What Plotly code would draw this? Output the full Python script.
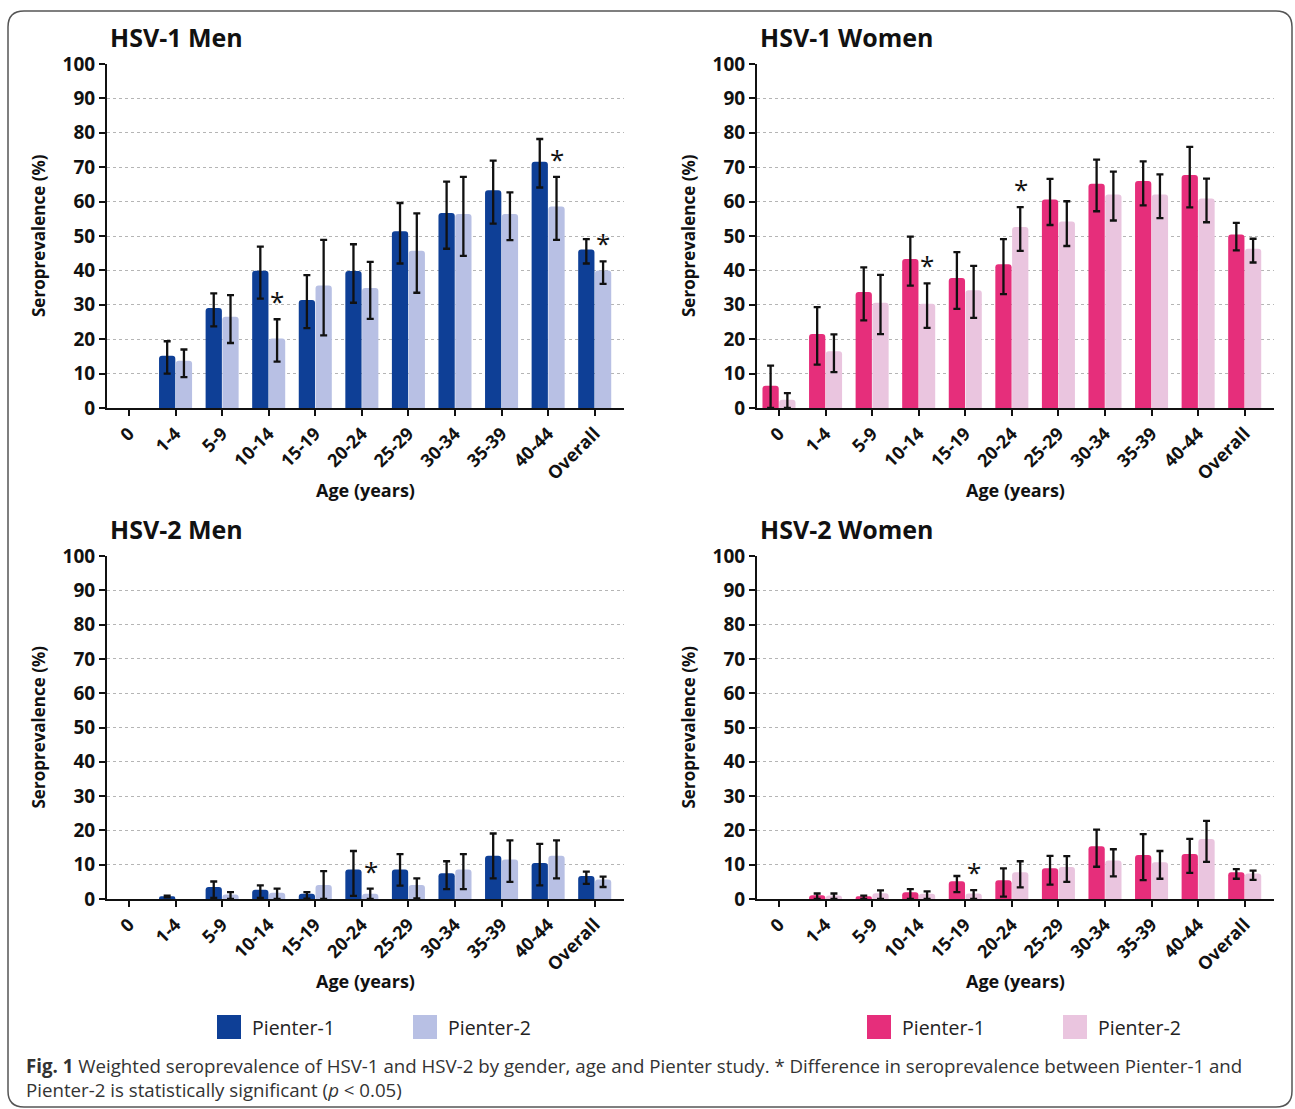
import plotly.graph_objects as go

W, H = 1295, 1109

ages = ["0", "1-4", "5-9", "10-14", "15-19", "20-24", "25-29", "30-34", "35-39", "40-44", "Overall"]

# HSV-1 Men
hsv1_men_p1 = [None, 15.2, 29.1, 39.9, 31.4, 39.8, 51.4, 56.7, 63.3, 71.6, 46.1]
hsv1_men_p1_lo = [None, 10.0, 23.7, 31.8, 23.2, 30.6, 42.0, 46.3, 53.6, 64.1, 42.0]
hsv1_men_p1_hi = [None, 19.4, 33.3, 46.9, 38.6, 47.6, 59.6, 65.8, 71.9, 78.2, 49.1]
hsv1_men_p2 = [None, 13.7, 26.5, 20.2, 35.6, 34.9, 45.7, 56.4, 56.4, 58.6, 40.0]
hsv1_men_p2_lo = [None, 9.0, 18.9, 13.5, 21.1, 25.9, 33.5, 44.2, 48.8, 48.9, 36.1]
hsv1_men_p2_hi = [None, 17.0, 32.8, 25.8, 48.9, 42.5, 56.6, 67.2, 62.7, 67.2, 42.6]
hsv1_men_sig = [False, False, False, True, False, False, False, False, False, True, True]

# HSV-1 Women
hsv1_women_p1 = [6.5, 21.5, 33.7, 43.3, 37.8, 41.8, 60.6, 65.2, 66.0, 67.7, 50.4]
hsv1_women_p1_lo = [0.0, 12.6, 25.5, 35.6, 28.8, 33.1, 53.2, 57.2, 58.9, 58.3, 45.8]
hsv1_women_p1_hi = [12.3, 29.3, 40.9, 49.8, 45.3, 49.1, 66.6, 72.2, 71.7, 75.9, 53.8]
hsv1_women_p2 = [2.4, 16.5, 30.6, 30.3, 34.2, 52.6, 54.2, 62.1, 62.1, 60.9, 46.3]
hsv1_women_p2_lo = [0.0, 10.4, 21.5, 23.3, 26.2, 45.7, 47.1, 54.5, 55.2, 54.0, 42.3]
hsv1_women_p2_hi = [4.3, 21.4, 38.7, 36.2, 41.3, 58.4, 60.1, 68.7, 67.9, 66.7, 49.2]
hsv1_women_sig = [False, False, False, True, False, True, False, False, False, False, False]

# HSV-2 Men
hsv2_men_p1 = [None, 0.8, 3.5, 2.7, 1.5, 8.6, 8.6, 7.5, 12.6, 10.5, 6.7]
hsv2_men_p1_lo = [None, 0.5, 0.3, 0.3, 0.1, 0.9, 3.9, 2.9, 6.0, 4.0, 4.4]
hsv2_men_p1_hi = [None, 1.0, 5.1, 4.0, 2.0, 14.0, 13.1, 11.0, 19.1, 16.1, 8.0]
hsv2_men_p2 = [None, None, 1.3, 1.8, 4.1, 1.5, 4.1, 8.6, 11.5, 12.6, 5.7]
hsv2_men_p2_lo = [None, None, 0.0, 0.0, 0.0, 0.0, 0.2, 2.9, 5.0, 6.0, 3.5]
hsv2_men_p2_hi = [None, None, 2.0, 3.0, 8.1, 3.0, 6.0, 13.1, 17.1, 17.1, 6.5]
hsv2_men_sig = [False, False, False, False, False, True, False, False, False, False, False]

# HSV-2 Women
hsv2_women_p1 = [None, 1.1, 0.8, 2.0, 5.2, 5.5, 9.0, 15.4, 12.8, 13.1, 7.8]
hsv2_women_p1_lo = [None, 0.0, 0.0, 0.0, 2.0, 0.7, 4.2, 9.4, 5.5, 7.6, 5.9]
hsv2_women_p1_hi = [None, 1.6, 1.0, 2.9, 6.7, 8.9, 12.6, 20.2, 18.9, 17.5, 8.7]
hsv2_women_p2 = [None, 1.0, 1.7, 1.5, 1.6, 7.8, 9.3, 11.2, 10.7, 17.5, 7.4]
hsv2_women_p2_lo = [None, 0.0, 0.0, 0.0, 0.0, 3.4, 5.0, 6.6, 5.9, 10.8, 5.6]
hsv2_women_p2_hi = [None, 1.6, 2.5, 2.2, 2.6, 11.0, 12.5, 14.5, 14.0, 22.8, 8.3]
hsv2_women_sig = [False, False, False, False, True, False, False, False, False, False, False]

panel_titles = ["HSV-1 Men", "HSV-1 Women", "HSV-2 Men", "HSV-2 Women"]
y_ticks = [0, 10, 20, 30, 40, 50, 60, 70, 80, 90, 100]
legend_labels = ["Pienter-1", "Pienter-2"]

BLUE1, BLUE2 = "#0E3F96", "#B8C0E4"
PINK1, PINK2 = "#E62E7B", "#EAC5DF"
FONT = "Open Sans"

panels = [
    (hsv1_men_p1, hsv1_men_p1_lo, hsv1_men_p1_hi, hsv1_men_p2, hsv1_men_p2_lo, hsv1_men_p2_hi, hsv1_men_sig, BLUE1, BLUE2),
    (hsv1_women_p1, hsv1_women_p1_lo, hsv1_women_p1_hi, hsv1_women_p2, hsv1_women_p2_lo, hsv1_women_p2_hi, hsv1_women_sig, PINK1, PINK2),
    (hsv2_men_p1, hsv2_men_p1_lo, hsv2_men_p1_hi, hsv2_men_p2, hsv2_men_p2_lo, hsv2_men_p2_hi, hsv2_men_sig, BLUE1, BLUE2),
    (hsv2_women_p1, hsv2_women_p1_lo, hsv2_women_p1_hi, hsv2_women_p2, hsv2_women_p2_lo, hsv2_women_p2_hi, hsv2_women_sig, PINK1, PINK2),
]

# pixel boxes of plot areas (left, right, top, bottom)
boxes = [(107, 624, 64, 408), (757, 1274, 64, 408), (107, 624, 556, 899), (757, 1274, 556, 899)]


def px(x):
    return x / W


def py(y):
    return 1 - y / H


def err(v, lo, hi):
    plus = [None if a is None else round(h - a, 3) for a, h in zip(v, hi)]
    minus = [None if a is None else round(a - l, 3) for a, l in zip(v, lo)]
    return plus, minus


fig = go.Figure()
annotations = []
shapes = []
layout = {}

for i, (p1, p1lo, p1hi, p2, p2lo, p2hi, sig, c1, c2) in enumerate(panels):
    n = "" if i == 0 else str(i + 1)
    xa, ya = "x" + n, "y" + n
    for vals, lo, hi, col, name in [(p1, p1lo, p1hi, c1, legend_labels[0]), (p2, p2lo, p2hi, c2, legend_labels[1])]:
        plus, minus = err(vals, lo, hi)
        fig.add_trace(go.Bar(
            x=ages, y=vals, name=name, marker=dict(color=col, line=dict(width=0)),
            error_y=dict(type="data", array=plus, arrayminus=minus, symmetric=False,
                         color="#111111", thickness=2.3, width=3.5),
            xaxis=xa, yaxis=ya, showlegend=False,
        ))
    l, r, t, b = boxes[i]
    layout["xaxis" + n] = dict(
        domain=[px(l), px(r)], anchor=ya, type="category", range=[-0.472, 10.629],
        showline=True, linecolor="#111111", linewidth=2, ticks="outside", ticklen=6,
        tickwidth=2, tickcolor="#111111", tickangle=-45, showgrid=False, automargin=False,
        tickfont=dict(family=FONT, size=18, color="#111111", weight="bold"),
    )
    layout["yaxis" + n] = dict(
        domain=[py(b), py(t)], anchor=xa, range=[0, 100], tickvals=y_ticks,
        showline=True, linecolor="#111111", linewidth=2, ticks="outside", ticklen=6,
        tickwidth=2, tickcolor="#111111", showgrid=True, gridcolor="#B5B5B5",
        griddash="dot", gridwidth=1, zeroline=False, automargin=False,
        tickfont=dict(family=FONT, size=19, color="#111111", weight="bold"),
    )
    # panel title
    annotations.append(dict(text=f"<b>{panel_titles[i]}</b>", x=px(l + 1), y=py(t - 27),
                            xref="paper", yref="paper", xanchor="left", yanchor="middle",
                            showarrow=False, font=dict(family=FONT, size=25, color="#111111")))
    # y title
    annotations.append(dict(text="<b>Seroprevalence (%)</b>", x=px(l - 69), y=py((t + b) / 2),
                            xref="paper", yref="paper", xanchor="center", yanchor="middle",
                            textangle=-90, showarrow=False,
                            font=dict(family=FONT, size=17, color="#111111")))
    # x title
    annotations.append(dict(text="<b>Age (years)</b>", x=px(l + 258), y=py(b + 82),
                            xref="paper", yref="paper", xanchor="center", yanchor="middle",
                            showarrow=False, font=dict(family=FONT, size=18, color="#111111")))
    # significance asterisks
    for a, s, h in zip(ages, sig, p2hi):
        if s:
            annotations.append(dict(text="*", x=a, y=h, xref=xa, yref=ya, xanchor="center",
                                    yanchor="bottom", xshift=8.7, yshift=-2, showarrow=False,
                                    font=dict(family=FONT, size=26, color="#111111")))

# legends (bottom)
leg_items = [(217, BLUE1, legend_labels[0]), (413, BLUE2, legend_labels[1]),
             (867, PINK1, legend_labels[0]), (1063, PINK2, legend_labels[1])]
for x0, col, lab in leg_items:
    shapes.append(dict(type="rect", xref="paper", yref="paper", x0=px(x0), x1=px(x0 + 24),
                       y0=py(1039), y1=py(1015), fillcolor=col, line=dict(width=0)))
    annotations.append(dict(text=lab, x=px(x0 + 33), y=py(1027), xref="paper", yref="paper",
                            xanchor="left", yanchor="middle", showarrow=False,
                            font=dict(family=FONT, size=19.5, color="#222222")))

# caption
annotations.append(dict(
    text="<b>Fig. 1</b> Weighted seroprevalence of HSV-1 and HSV-2 by gender, age and Pienter study. * Difference in seroprevalence between Pienter-1 and<br>Pienter-2 is statistically significant (<i>p</i> &lt; 0.05)",
    x=px(24), y=py(1051), xref="paper", yref="paper", xanchor="left", yanchor="top", align="left",
    showarrow=False, font=dict(family=FONT, size=18.7, color="#333333")))

# rounded border
x0, x1, y0, y1, rr = 8, 1292, 11, 1107, 16
rx, ry = rr / W, rr / H
path = (f"M {px(x0)+rx},{py(y0)} L {px(x1)-rx},{py(y0)} Q {px(x1)},{py(y0)} {px(x1)},{py(y0)-ry} "
        f"L {px(x1)},{py(y1)+ry} Q {px(x1)},{py(y1)} {px(x1)-rx},{py(y1)} "
        f"L {px(x0)+rx},{py(y1)} Q {px(x0)},{py(y1)} {px(x0)},{py(y1)+ry} "
        f"L {px(x0)},{py(y0)-ry} Q {px(x0)},{py(y0)} {px(x0)+rx},{py(y0)} Z")
shapes.append(dict(type="path", path=path, xref="paper", yref="paper",
                   line=dict(color="#555555", width=1.5)))

fig.update_layout(
    width=W, height=H, autosize=False,
    margin=dict(l=0, r=0, t=0, b=0, pad=0, autoexpand=False),
    paper_bgcolor="white", plot_bgcolor="white",
    barmode="group", bargap=0.28, bargroupgap=0.03, barcornerradius=3,
    annotations=annotations, shapes=shapes, showlegend=False,
    font=dict(family=FONT),
    **layout,
)

fig.write_html("out.html", config={"displayModeBar": False},
               post_script="document.body.style.margin='0';document.body.style.overflow='hidden';")
